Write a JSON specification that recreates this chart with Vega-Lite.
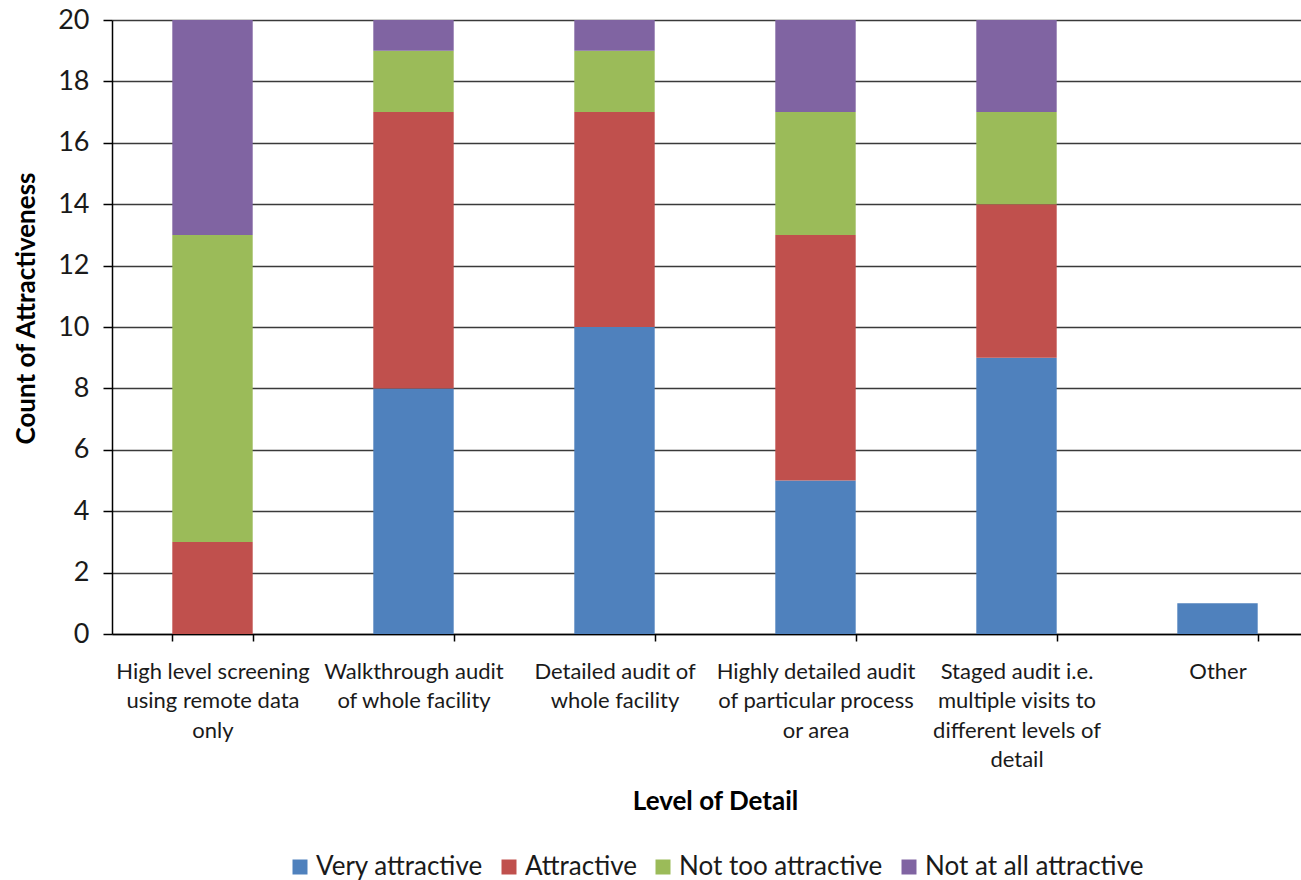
{
  "$schema": "https://vega.github.io/schema/vega-lite/v6.json",
  "width": 1189,
  "height": 614,
  "autosize": {"type": "none"},
  "padding": {"left": 112, "top": 20, "right": 0, "bottom": 246},
  "background": "white",
  "config": {
    "view": {"stroke": null},
    "font": "Lato",
    "axis": {"labelFont": "Lato", "titleFont": "Lato", "labelColor": "#1a1a1a", "titleColor": "#000000"},
    "legend": {"labelFont": "Lato", "labelColor": "#1a1a1a"}
  },
  "data": {
    "values": [
      {"level": "High level screening using remote data only", "rating": "Very attractive", "count": 0},
      {"level": "High level screening using remote data only", "rating": "Attractive", "count": 3},
      {"level": "High level screening using remote data only", "rating": "Not too attractive", "count": 10},
      {"level": "High level screening using remote data only", "rating": "Not at all attractive", "count": 7},
      {"level": "Walkthrough audit of whole facility", "rating": "Very attractive", "count": 8},
      {"level": "Walkthrough audit of whole facility", "rating": "Attractive", "count": 9},
      {"level": "Walkthrough audit of whole facility", "rating": "Not too attractive", "count": 2},
      {"level": "Walkthrough audit of whole facility", "rating": "Not at all attractive", "count": 1},
      {"level": "Detailed audit of whole facility", "rating": "Very attractive", "count": 10},
      {"level": "Detailed audit of whole facility", "rating": "Attractive", "count": 7},
      {"level": "Detailed audit of whole facility", "rating": "Not too attractive", "count": 2},
      {"level": "Detailed audit of whole facility", "rating": "Not at all attractive", "count": 1},
      {"level": "Highly detailed audit of particular process or area", "rating": "Very attractive", "count": 5},
      {"level": "Highly detailed audit of particular process or area", "rating": "Attractive", "count": 8},
      {"level": "Highly detailed audit of particular process or area", "rating": "Not too attractive", "count": 4},
      {"level": "Highly detailed audit of particular process or area", "rating": "Not at all attractive", "count": 3},
      {"level": "Staged audit i.e. multiple visits to different levels of detail", "rating": "Very attractive", "count": 9},
      {"level": "Staged audit i.e. multiple visits to different levels of detail", "rating": "Attractive", "count": 5},
      {"level": "Staged audit i.e. multiple visits to different levels of detail", "rating": "Not too attractive", "count": 3},
      {"level": "Staged audit i.e. multiple visits to different levels of detail", "rating": "Not at all attractive", "count": 3},
      {"level": "Other", "rating": "Very attractive", "count": 1}
    ]
  },
  "transform": [
    {"calculate": "indexof(['Very attractive', 'Attractive', 'Not too attractive', 'Not at all attractive'], datum.rating)", "as": "stack_rank"}
  ],
  "mark": {"type": "bar"},
  "encoding": {
    "x": {
      "field": "level",
      "type": "nominal",
      "sort": null,
      "scale": {"paddingInner": 0.6, "paddingOuter": 0.3, "range": [0, 1206]},
      "axis": {
        "title": "Level of Detail",
        "titleFontSize": 26,
        "titleFontWeight": "bold",
        "titlePadding": 18,
        "labelAngle": 0,
        "labelFontSize": 22,
        "labelLineHeight": 29.5,
        "labelPadding": 20,
        "labelBaseline": "top",
        "labelLimit": 0,
        "tickBand": "extent",
        "tickSize": 7,
        "tickColor": "#000000",
        "tickWidth": 1.5,
        "domainColor": "#000000",
        "domainWidth": 1.5,
        "labelExpr": "datum.value == 'High level screening using remote data only' ? ['High level screening', 'using remote data', 'only'] : datum.value == 'Walkthrough audit of whole facility' ? ['Walkthrough audit', 'of whole facility'] : datum.value == 'Detailed audit of whole facility' ? ['Detailed audit of', 'whole facility'] : datum.value == 'Highly detailed audit of particular process or area' ? ['Highly detailed audit', 'of particular process', 'or area'] : datum.value == 'Staged audit i.e. multiple visits to different levels of detail' ? ['Staged audit i.e.', 'multiple visits to', 'different levels of', 'detail'] : datum.label"
      }
    },
    "y": {
      "field": "count",
      "type": "quantitative",
      "stack": "zero",
      "scale": {"domain": [0, 20], "nice": false},
      "axis": {
        "title": "Count of Attractiveness",
        "titleFontSize": 26,
        "titleFontWeight": "bold",
        "titlePadding": 18,
        "titleY": 288,
        "values": [0, 2, 4, 6, 8, 10, 12, 14, 16, 18, 20],
        "labelFontSize": 27,
        "labelPadding": 14,
        "tickSize": 9,
        "tickColor": "#000000",
        "tickWidth": 1.5,
        "domainColor": "#000000",
        "domainWidth": 1.5,
        "grid": true,
        "gridColor": "#3a3a3a",
        "gridWidth": 1.5
      }
    },
    "color": {
      "field": "rating",
      "type": "nominal",
      "sort": ["Very attractive", "Attractive", "Not too attractive", "Not at all attractive"],
      "scale": {
        "domain": ["Very attractive", "Attractive", "Not too attractive", "Not at all attractive"],
        "range": ["#4F81BD", "#C0504D", "#9BBB59", "#8064A2"]
      },
      "legend": {
        "title": null,
        "orient": "none",
        "direction": "horizontal",
        "legendX": 175,
        "legendY": 834,
        "symbolType": "square",
        "symbolSize": 225,
        "symbolStrokeWidth": 0,
        "labelFontSize": 26,
        "labelOffset": 3,
        "columnPadding": 13,
        "labelLimit": 0
      }
    },
    "order": {"field": "stack_rank", "type": "quantitative", "sort": "ascending"}
  }
}
